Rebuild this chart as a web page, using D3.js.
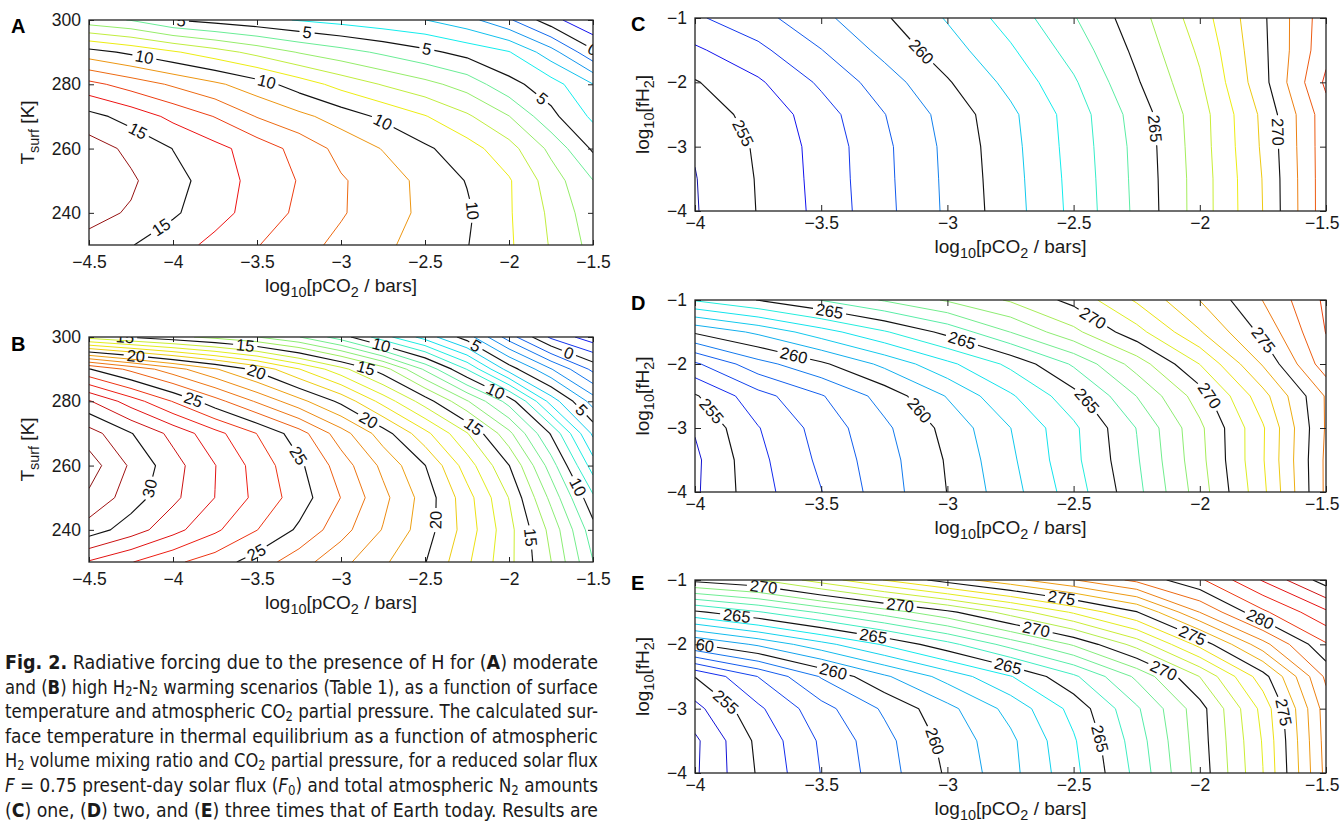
<!DOCTYPE html>
<html>
<head>
<meta charset="utf-8">
<script src="https://cdn.jsdelivr.net/npm/d3@7"></script>
<style>
  body { margin: 0; background: #fff; }
</style>
</head>
<body>
<svg id="fig" width="1341" height="828"></svg>
<script>
// ---- grids ----
// A, B: radiative forcing; rows are surface temperature (top = 300 K), columns log10 pCO2
const co2AB = [-4.5, -4.25, -4, -3.75, -3.5, -3.25, -3, -2.75, -2.5, -2.25, -2, -1.75, -1.5];
const tempAB = [300, 290, 280, 270, 260, 250, 240, 230];

const forcingA = [
  [6.4, 5.95, 5.02, 4.64, 4.29, 3.94, 3.63, 3.31, 3.02, 2.36, 1.15, -0.6, -2.02],
  [10.39, 9.79, 9.13, 8.43, 7.69, 6.93, 6.38, 5.82, 5.25, 4.66, 4.06, 2.43, 0.2],
  [13.3, 12.57, 11.86, 11.19, 10.44, 9.54, 8.65, 7.93, 7.31, 6.58, 5.32, 4.44, 3.02],
  [15.33, 14.61, 13.75, 12.96, 11.95, 11.27, 10.55, 9.8, 9.06, 8.16, 7.03, 5.28, 3.8],
  [16.5, 15.76, 14.98, 14.29, 13.55, 12.66, 11.69, 10.95, 10.17, 9.42, 8.38, 6.75, 4.85],
  [16.75, 16.15, 15.3, 14.6, 13.6, 12.95, 12.1, 11.5, 10.7, 9.95, 9.1, 7.5, 6.02],
  [16.3, 15.9, 15.15, 14.35, 13.6, 12.8, 12.1, 11.4, 10.8, 10.15, 9.1, 7.8, 6.4],
  [15.7, 15.05, 14.4, 13.74, 13.05, 12.37, 11.74, 11.18, 10.62, 10.04, 9.14, 7.92, 6.67]
];

const forcingB = [
  [15.6, 14.9, 14.3, 13.7, 13.02, 12.03, 10.5, 8.4, 6.6, 4.5, 1.5, -1.2, -2.6],
  [25.05, 23.74, 22.42, 21.1, 19.73, 18.04, 16.35, 14.47, 11.83, 8.95, 5.54, 3.06, 0.74],
  [29.1, 27.5, 25.95, 24.39, 22.87, 21.34, 19.75, 17.63, 15.51, 13.1, 10.6, 6.6, 3.55],
  [31.45, 30.05, 28.7, 27.34, 25.98, 24.44, 22.46, 20.48, 18.3, 16.07, 13.27, 9.9, 5.8],
  [32.5, 30.84, 29.4, 28.03, 26.61, 25.22, 23.52, 21.76, 20.03, 17.51, 15.03, 11.52, 7.5],
  [31.8, 30.49, 29.23, 27.99, 26.74, 25.5, 23.98, 22.28, 20.58, 18.4, 15.97, 12.73, 9.2],
  [30.52, 29.5, 28.34, 27.18, 26.02, 24.83, 23.38, 21.94, 20.49, 18.54, 16.33, 13.69, 10.4],
  [27.9, 27.05, 26.2, 25.5, 24.54, 23.42, 22.3, 21.17, 20.05, 18.18, 16.27, 14.02, 11.03]
];

// C, D, E: surface temperature; rows are log10 fH2 (top = -1), columns log10 pCO2
const co2CE = [-4, -3.75, -3.5, -3.25, -3, -2.75, -2.5, -2.25, -2, -1.75, -1.5];
const h2CE = [-1, -1.5, -2, -2.5, -3, -3.5, -4];

const tsurfC = [
  [256.85, 257.65, 258.75, 259.87, 261.09, 262.43, 263.92, 265.57, 267.52, 269.83, 272.6],
  [255.83, 256.75, 257.97, 259.29, 260.55, 261.86, 263.41, 265.25, 267.17, 269.77, 272.7],
  [254.92, 255.85, 257.17, 258.52, 259.9, 261.3, 262.86, 264.89, 266.86, 269.66, 273.2],
  [254.54, 255.29, 256.56, 257.97, 259.37, 260.78, 262.45, 264.43, 266.56, 269.22, 272.6],
  [254.07, 255.14, 256.38, 257.79, 259.24, 260.68, 262.39, 264.29, 266.52, 269.15, 272.6],
  [253.96, 255.07, 256.35, 257.76, 259.2, 260.62, 262.32, 264.25, 266.46, 269.04, 272.6],
  [253.93, 255.04, 256.3, 257.72, 259.17, 260.57, 262.27, 264.21, 266.46, 269.01, 272.6]
];

const tsurfD = [
  [264.1, 265.03, 266.04, 267.1, 268.12, 269.12, 270.3, 272.14, 274.02, 276.03, 278.2],
  [260.15, 261.21, 262.56, 263.89, 265.3, 267.02, 268.73, 270.64, 272.91, 275.26, 278.03],
  [256.83, 258.63, 259.81, 261.25, 262.76, 264.24, 266.15, 268.45, 271.02, 274.1, 277.6],
  [254.89, 256.62, 257.92, 259.38, 261.07, 262.86, 264.63, 267.02, 269.49, 272.63, 276.1],
  [254.08, 255.95, 257.4, 258.8, 260.31, 261.99, 263.8, 266.03, 268.78, 271.89, 276.1],
  [253.8, 255.73, 257.21, 258.61, 260.1, 261.8, 263.74, 265.88, 268.68, 271.92, 276.2],
  [253.85, 255.62, 256.97, 258.52, 260.02, 261.61, 263.5, 265.7, 268.49, 271.75, 276.2]
];

const tsurfE = [
  [270.3, 270.94, 272.47, 274.03, 275.45, 276.7, 277.95, 279.25, 280.83, 283.09, 285.5],
  [264.8, 265.9, 267.16, 268.45, 269.74, 271.43, 273.14, 274.93, 278.02, 280.8, 282.8],
  [259.95, 261.18, 262.65, 264.12, 265.67, 267.4, 269.13, 271.38, 274.33, 277.63, 280.9],
  [255.03, 257.02, 259.08, 260.84, 262.38, 263.94, 265.8, 268.2, 271.02, 274.57, 279.2],
  [253.67, 255.81, 257.64, 259.15, 260.71, 262.33, 264.33, 266.85, 269.59, 273.32, 278.5],
  [252.8, 255.25, 257.15, 258.69, 260.32, 261.78, 263.88, 266.5, 269.52, 273.08, 278.4],
  [252.85, 255.11, 257.03, 258.58, 260.14, 261.69, 263.71, 266.29, 269.41, 272.98, 278.3]
];

// inline contour labels: [level, log10 pCO2, y value] near where the figure puts them
const labelsA = [
  [5, -3.95, 300], [5, -3.2, 297.1], [5, -2.49, 290.7], [5, -1.81, 275.1], [0, -1.5, 290.7],
  [10, -4.17, 288.6], [10, -3.44, 281.3], [10, -2.75, 268.4], [10, -2.2, 240.9],
  [15, -4.2, 266.3], [15, -4.06, 234.7]
];
const labelsB = [
  [15, -4.3, 300], [15, -3.57, 297.4], [10, -2.76, 297.4], [5, -2.19, 297.9], [0, -1.645, 294.8],
  [20, -4.22, 294.8], [20, -3.5, 289.6], [15, -2.85, 290.7], [10, -2.06, 285.5], [5, -1.58, 276.7],
  [25, -3.87, 281.9], [20, -2.82, 275.6], [15, -2.19, 273.6], [25, -3.22, 264.2], [30, -4.13, 252.8],
  [10, -1.59, 253.3], [20, -2.39, 243], [15, -1.84, 237.8], [25, -3.5, 232.6]
];
const labelsC = [[260, -3.11, -1.55], [255, -3.8, -2.77], [265, -2.18, -2.72], [270, -1.68, -2.77]];
const labelsD = [
  [265, -3.465, -1.13], [265, -2.94, -1.6], [260, -3.61, -1.89], [260, -3.11, -2.72], [255, -3.93, -2.72],
  [270, -2.42, -1.26], [265, -2.435, -2.54], [270, -1.96, -2.49], [275, -1.75, -1.63]
];
const labelsE = [
  [270, -3.73, -1.155], [265, -3.835, -1.57], [260, -3.976, -1.93], [255, -3.876, -2.89],
  [260, -3.452, -2.42], [265, -3.294, -1.88], [270, -3.188, -1.414], [260, -3.056, -3.51],
  [275, -2.547, -1.26], [270, -2.646, -1.73], [265, -2.759, -2.32], [275, -2.026, -1.83],
  [270, -2.137, -2.35], [265, -2.389, -3.46], [280, -1.762, -1.62], [275, -1.649, -3.05]
];

const colorSpanA = [-3.5, 16.5];
const colorSpanB = [-7.5, 32.5];
const colorSpanC = [253, 277];
const colorSpanD = [251, 284];
const colorSpanE = [250.3, 287.3];

const tickCO2AB = [-4.5, -4, -3.5, -3, -2.5, -2, -1.5];
const tickTemp = [240, 260, 280, 300];
const tickCO2CE = [-4, -3.5, -3, -2.5, -2, -1.5];
const tickH2 = [-4, -3, -2, -1];

const captionLines = [
  [['Fig. 2.', 'b'], [' Radiative forcing due to the presence of H for (', ''], ['A', 'b'], [') moderate', '']],
  [['and (', ''], ['B', 'b'], [') high H', ''], ['2', 'sub'], ['-N', ''], ['2', 'sub'], [' warming scenarios (Table 1), as a function of surface', '']],
  [['temperature and atmospheric CO', ''], ['2', 'sub'], [' partial pressure. The calculated sur-', '']],
  [['face temperature in thermal equilibrium as a function of atmospheric', '']],
  [['H', ''], ['2', 'sub'], [' volume mixing ratio and CO', ''], ['2', 'sub'], [' partial pressure, for a reduced solar flux', '']],
  [['F', 'i'], [' = 0.75 present-day solar flux (', ''], ['F', 'i'], ['0', 'sub'], [') and total atmospheric N', ''], ['2', 'sub'], [' amounts', '']],
  [['(', ''], ['C', 'b'], [') one, (', ''], ['D', 'b'], [') two, and (', ''], ['E', 'b'], [') three times that of Earth today. Results are', '']]
];

const svg = d3.select('#fig');
const FONT = '"Liberation Sans", Arial, Helvetica, sans-serif';
const fmt = d3.format('~g');

function jet(t) {
    const c = v => Math.max(0, Math.min(1, v));
    const col = d3.rgb(
        255 * c(1.5 - Math.abs(4 * t - 3)),
        255 * c(1.5 - Math.abs(4 * t - 2)),
        255 * c(1.5 - Math.abs(4 * t - 1))
    );
    // printed figure is a little muted
    return d3.interpolateRgb(col, '#808080')(0.14);
}

// writes text made of [string, kind] parts, kind: '', 'b', 'i', 'sub'
function rich(sel, parts, size, subScale, subDrop) {
    subScale = subScale || 0.72;
    subDrop = subDrop || 0.25;
    let down = 0;
    parts.forEach(function (p) {
        const t = sel.append('tspan').text(p[0]);
        if (p[1] === 'sub') {
            t.attr('font-size', size * subScale).attr('dy', size * subDrop - down);
            down = size * subDrop;
        } else {
            if (down) t.attr('dy', -down);
            down = 0;
            if (p[1] === 'b') t.attr('font-weight', 'bold');
            if (p[1] === 'i') t.attr('font-style', 'italic');
        }
    });
}

// d3.contours gives closed rings; keep only the parts inside the grid (drop the padding border)
function splitRing(ring, nx, ny) {
    let pts = ring.slice();
    const a = pts[0], b = pts[pts.length - 1];
    if (a[0] === b[0] && a[1] === b[1]) pts.pop();
    const onEdge = p => p[0] <= 0 || p[0] >= nx || p[1] <= 0 || p[1] >= ny;
    const k = pts.findIndex(onEdge);
    if (k < 0) return [pts.concat([pts[0]])];
    pts = pts.slice(k).concat(pts.slice(0, k));
    const out = [];
    let cur = [];
    pts.forEach(function (p) {
        if (onEdge(p)) {
            if (cur.length > 1) out.push(cur);
            cur = [];
        } else cur.push(p);
    });
    if (cur.length > 1) out.push(cur);
    return out;
}

function measure(pts) {
    const cum = [0];
    for (let i = 1; i < pts.length; i++) {
        cum.push(cum[i - 1] + Math.hypot(pts[i][0] - pts[i - 1][0], pts[i][1] - pts[i - 1][1]));
    }
    return cum;
}

function pointAt(l, s) {
    const n = l.pts.length;
    s = Math.max(0, Math.min(l.cum[n - 1], s));
    let i = d3.bisectRight(l.cum, s) - 1;
    i = Math.max(0, Math.min(n - 2, i));
    const seg = l.cum[i + 1] - l.cum[i] || 1e-9;
    const t = (s - l.cum[i]) / seg;
    return [l.pts[i][0] + t * (l.pts[i + 1][0] - l.pts[i][0]), l.pts[i][1] + t * (l.pts[i + 1][1] - l.pts[i][1])];
}

function pieces(l) {
    const total = l.cum[l.cum.length - 1];
    const gaps = l.gaps.slice().sort((a, b) => a[0] - b[0]);
    const spans = [];
    let start = 0;
    gaps.forEach(function (g) {
        if (g[0] > start) spans.push([start, g[0]]);
        start = Math.max(start, g[1]);
    });
    if (start < total) spans.push([start, total]);
    return spans.map(function (sp) {
        const seg = [pointAt(l, sp[0])];
        l.cum.forEach(function (c, i) {
            if (c > sp[0] && c < sp[1]) seg.push(l.pts[i]);
        });
        seg.push(pointAt(l, sp[1]));
        return seg;
    });
}

function drawPanel(p) {
    const nx = p.xs.length, ny = p.ys.length;
    const x = d3.scaleLinear().domain([p.xs[0], p.xs[nx - 1]]).range([p.x0, p.x1]);
    const y = d3.scaleLinear().domain([p.ys[0], p.ys[ny - 1]]).range([p.y0, p.y1]);
    // grid index -> pixel (d3.contours puts sample i at i + 0.5)
    const gx = d3.scaleLinear().domain([0.5, nx - 0.5]).range([x(p.xs[0]), x(p.xs[nx - 1])]);
    const gy = d3.scaleLinear().domain([0.5, ny - 0.5]).range([y(p.ys[0]), y(p.ys[ny - 1])]);

    const flat = p.grid.flat();
    const lo = d3.min(flat), hi = d3.max(flat);
    const levels = d3.range(Math.floor(lo) + 1, Math.ceil(hi));
    const tcol = d3.scaleLinear().domain(p.colorSpan).range([0, 1]);

    const lines = [];
    d3.contours().size([nx, ny]).thresholds(levels)(flat).forEach(function (c) {
        c.coordinates.forEach(function (poly) {
            poly.forEach(function (ring) {
                splitRing(ring, nx, ny).forEach(function (pts) {
                    const px = pts.map(q => [gx(q[0]), gy(q[1])]);
                    lines.push({ value: c.value, pts: px, cum: measure(px), gaps: [] });
                });
            });
        });
    });

    const clipId = 'clip' + p.id;
    svg.append('clipPath').attr('id', clipId)
        .append('rect')
        .attr('x', p.x0).attr('y', p.y0)
        .attr('width', p.x1 - p.x0).attr('height', p.y1 - p.y0);

    const plot = svg.append('g').attr('clip-path', 'url(#' + clipId + ')');
    const lineG = plot.append('g');
    const labelG = plot.append('g')
        .attr('font-family', FONT)
        .attr('font-size', 16.5)
        .attr('fill', '#111')
        .attr('text-anchor', 'middle');

    p.labels.forEach(function (lab) {
        const tx = x(lab[1]), ty = y(lab[2]);
        let best = null;
        lines.filter(l => l.value === lab[0]).forEach(function (l) {
            for (let i = 0; i < l.pts.length - 1; i++) {
                const a = l.pts[i], b = l.pts[i + 1];
                const dx = b[0] - a[0], dy = b[1] - a[1];
                const L2 = dx * dx + dy * dy || 1e-9;
                let t = ((tx - a[0]) * dx + (ty - a[1]) * dy) / L2;
                t = Math.max(0, Math.min(1, t));
                const d = Math.pow(a[0] + t * dx - tx, 2) + Math.pow(a[1] + t * dy - ty, 2);
                if (!best || d < best.d) best = { d: d, l: l, s: l.cum[i] + t * Math.sqrt(L2) };
            }
        });
        if (!best) return;
        const text = labelG.append('text').attr('dy', '0.35em').text(lab[0]);
        const w = text.node().getComputedTextLength();
        const p1 = pointAt(best.l, best.s - w / 2);
        const p2 = pointAt(best.l, best.s + w / 2);
        const c = pointAt(best.l, best.s);
        let ang = Math.atan2(p2[1] - p1[1], p2[0] - p1[0]) * 180 / Math.PI;
        if (ang > 90) ang -= 180;
        if (ang < -90) ang += 180;
        text.attr('transform', 'translate(' + c[0] + ',' + c[1] + ') rotate(' + ang + ')');
        best.l.gaps.push([best.s - w / 2 - 3, best.s + w / 2 + 3]);
    });

    const path = d3.line();
    lines.forEach(function (l) {
        const stroke = l.value % 5 === 0 ? '#111' : jet(tcol(l.value));
        pieces(l).forEach(function (seg) {
            lineG.append('path')
                .attr('d', path(seg))
                .attr('fill', 'none')
                .attr('stroke', stroke)
                .attr('stroke-width', l.value % 5 === 0 ? 1.15 : 1)
                .attr('stroke-linejoin', 'round');
        });
    });

    // axes: inward ticks on all four sides
    function styleAxis(g) {
        g.select('.domain').remove();
        g.attr('font-family', FONT).attr('font-size', 17.5);
        g.selectAll('.tick text').attr('fill', '#1a1a1a');
        g.selectAll('.tick line').attr('stroke', '#222');
    }
    const bottom = svg.append('g').attr('transform', 'translate(0,' + p.y1 + ')')
        .call(d3.axisBottom(x).tickValues(p.xTicks).tickFormat(fmt).tickSizeInner(-p.tick).tickSizeOuter(0).tickPadding(p.padX))
        .call(styleAxis);
    if (p.endLast) {
        // last tick label sits against the page edge
        bottom.selectAll('.tick text')
            .filter(d => d === p.xTicks[p.xTicks.length - 1])
            .attr('text-anchor', 'end').attr('x', 13);
    }
    svg.append('g').attr('transform', 'translate(0,' + p.y0 + ')')
        .call(d3.axisTop(x).tickValues(p.xTicks).tickFormat('').tickSizeInner(-p.tick).tickSizeOuter(0))
        .call(styleAxis);
    svg.append('g').attr('transform', 'translate(' + p.x0 + ',0)')
        .call(d3.axisLeft(y).tickValues(p.yTicks).tickFormat(fmt).tickSizeInner(-p.tick).tickSizeOuter(0).tickPadding(8))
        .call(styleAxis);
    svg.append('g').attr('transform', 'translate(' + p.x1 + ',0)')
        .call(d3.axisRight(y).tickValues(p.yTicks).tickFormat('').tickSizeInner(-p.tick).tickSizeOuter(0))
        .call(styleAxis);

    svg.append('rect')
        .attr('x', p.x0).attr('y', p.y0)
        .attr('width', p.x1 - p.x0).attr('height', p.y1 - p.y0)
        .attr('fill', 'none').attr('stroke', '#222').attr('stroke-width', 1.3);

    const xt = svg.append('text')
        .attr('x', (p.x0 + p.x1) / 2).attr('y', p.y1 + p.titleX)
        .attr('text-anchor', 'middle').attr('font-family', FONT).attr('font-size', 19).attr('fill', '#1a1a1a');
    rich(xt, [['log', ''], ['10', 'sub'], ['[pCO', ''], ['2', 'sub'], [' / bars]', '']], 19, 0.76, 0.28);

    const yt = svg.append('text')
        .attr('transform', 'translate(' + p.titleY + ',' + (p.y0 + p.y1) / 2 + ') rotate(-90)')
        .attr('text-anchor', 'middle').attr('dy', '0.35em')
        .attr('font-family', FONT).attr('font-size', 19).attr('fill', '#1a1a1a');
    rich(yt, p.yTitle, 19, 0.76, 0.28);

    svg.append('text')
        .attr('x', p.letter[0]).attr('y', p.letter[1])
        .attr('font-family', FONT).attr('font-size', 20).attr('font-weight', 'bold')
        .text(p.id);
}

const titleT = [['T', ''], ['surf', 'sub'], [' [K]', '']];
const titleH2 = [['log', ''], ['10', 'sub'], ['[fH', ''], ['2', 'sub'], [']', '']];

const panels = [
    { id: 'A', x0: 89, x1: 593, y0: 20, y1: 245, xs: co2AB, ys: tempAB, grid: forcingA, labels: labelsA, colorSpan: colorSpanA,
      xTicks: tickCO2AB, yTicks: tickTemp, yTitle: titleT, tick: 5, padX: 11, titleX: 47, titleY: 27, letter: [11, 33] },
    { id: 'B', x0: 89, x1: 593, y0: 337, y1: 562, xs: co2AB, ys: tempAB, grid: forcingB, labels: labelsB, colorSpan: colorSpanB,
      xTicks: tickCO2AB, yTicks: tickTemp, yTitle: titleT, tick: 5, padX: 11, titleX: 47, titleY: 27, letter: [11, 351] },
    { id: 'C', x0: 695, x1: 1326, y0: 18, y1: 211, xs: co2CE, ys: h2CE, grid: tsurfC, labels: labelsC, colorSpan: colorSpanC,
      xTicks: tickCO2CE, yTicks: tickH2, yTitle: titleH2, tick: 6, padX: 6, titleX: 42, titleY: 642, letter: [631, 31], endLast: true },
    { id: 'D', x0: 695, x1: 1326, y0: 300, y1: 492, xs: co2CE, ys: h2CE, grid: tsurfD, labels: labelsD, colorSpan: colorSpanD,
      xTicks: tickCO2CE, yTicks: tickH2, yTitle: titleH2, tick: 6, padX: 6, titleX: 42, titleY: 642, letter: [631, 310], endLast: true },
    { id: 'E', x0: 695, x1: 1326, y0: 580, y1: 773, xs: co2CE, ys: h2CE, grid: tsurfE, labels: labelsE, colorSpan: colorSpanE,
      xTicks: tickCO2CE, yTicks: tickH2, yTitle: titleH2, tick: 6, padX: 6, titleX: 42, titleY: 642, letter: [631, 590], endLast: true }
];

panels.forEach(drawPanel);

// caption, justified to the column width
const capG = svg.append('g')
    .attr('font-family', '"Liberation Sans Narrow", "DejaVu Sans Condensed", "Roboto Condensed", "Liberation Sans", sans-serif')
    .attr('font-size', 19).attr('fill', '#1a1a1a');
captionLines.forEach(function (parts, i) {
    const t = capG.append('text')
        .attr('x', 5).attr('y', 669 + i * 24.6)
        .attr('textLength', 593).attr('lengthAdjust', 'spacingAndGlyphs');
    rich(t, parts, 19, 0.7, 0.15);
});
</script>
</body>
</html>
